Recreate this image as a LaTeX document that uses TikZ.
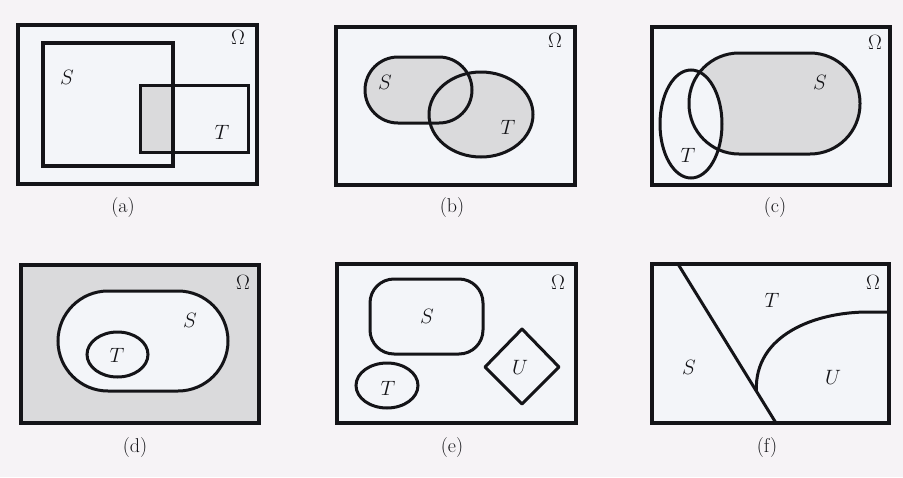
\documentclass[tikz,border=0pt]{standalone}
\usetikzlibrary{calc}
\definecolor{paper}{RGB}{246,243,246}
\definecolor{panel}{RGB}{243,245,249}
\definecolor{setgray}{RGB}{218,218,220}
\definecolor{ink}{RGB}{20,20,24}

\begin{document}
\begin{tikzpicture}[x=1pt,y=-1pt,
      frame/.style={draw=ink,line width=3.5pt,fill=panel},
      set/.style={draw=ink,line width=3pt},
      lbl/.style={font=\fontsize{22}{26}\selectfont,text=ink,inner sep=0pt},
      sublbl/.style={font=\fontsize{20}{24}\selectfont,text=ink,inner sep=0pt}]
      \fill[paper] (0,0) rectangle (903,477);
      % (a)
      \draw[frame] (18,25) rectangle (257,184);
      \fill[setgray] (140,85) rectangle (173,152);
      \draw[set,line width=3.5pt] (43,43) rectangle (173,166);
      \draw[set] (140,85) rectangle (248,152);
      \node[lbl] (omA) at (238,37) {$\Omega$};
      \node[lbl] (sA) at (67,77) {$S$};
      \node[lbl] (tA) at (222,132) {$T$};
      \node[sublbl] (capA) at (123,208) {(a)};
      % (b)
      \draw[frame] (336,27) rectangle (575,185);
      \fill[setgray,rounded corners=33pt] (365,57) rectangle (472,123);
      \fill[setgray] (481,114.5) ellipse[x radius=52,y radius=42.5];
      \draw[set,rounded corners=33pt] (365,57) rectangle (472,123);
      \draw[set] (481,114.5) ellipse[x radius=52,y radius=42.5];
      \node[lbl] (omB) at (555,40) {$\Omega$};
      \node[lbl] (sB) at (385,82) {$S$};
      \node[lbl] (tB) at (508,127) {$T$};
      \node[sublbl] (capB) at (452,208) {(b)};
      % (c)
      \draw[frame] (652,27) rectangle (890,185);
      \fill[setgray,rounded corners=50pt] (689,53) rectangle (860,154);
      \fill[panel] (691,124) ellipse[x radius=31,y radius=54];
      \draw[set,rounded corners=50pt] (689,53) rectangle (860,154);
      \draw[set] (691,124) ellipse[x radius=31,y radius=54];
      \node[lbl] (omC) at (875,42) {$\Omega$};
      \node[lbl] (sC) at (820,82) {$S$};
      \node[lbl] (tC) at (688,155) {$T$};
      \node[sublbl] (capC) at (775,208) {(c)};
      % (d)
      \draw[frame,fill=setgray] (21,265) rectangle (259,423);
      \draw[set,fill=panel,rounded corners=50pt] (58,291) rectangle (228,391);
      \draw[set] (117.5,354.5) ellipse[x radius=30.5,y radius=22.5];
      \node[lbl] (omD) at (243,282) {$\Omega$};
      \node[lbl] (sD) at (190,320) {$S$};
      \node[lbl] (tD) at (117,355) {$T$};
      \node[sublbl] (capD) at (135,448) {(d)};
      % (e)
      \draw[frame] (337,264) rectangle (576,423);
      \draw[set,rounded corners=24pt] (370,279) rectangle (483,354);
      \draw[set] (387,385.5) ellipse[x radius=31,y radius=22.5];
      \draw[set,line join=round] (485,367) -- (522,329) -- (559,367) -- (522,404) -- cycle;
      \node[lbl] (omE) at (558,282) {$\Omega$};
      \node[lbl] (sE) at (427,316) {$S$};
      \node[lbl] (tE) at (388,388) {$T$};
      \node[lbl] (uE) at (520,367) {$U$};
      \node[sublbl] (capE) at (452,448) {(e)};
      % (f)
      \draw[frame] (652,264) rectangle (889,423);
      \coordinate (cutTop) at (678,264);
      \coordinate (cutBot) at (776,423);
      \coordinate (meet) at ($(cutTop)!0.8!(cutBot)$);
      \coordinate (edge) at (889,312);
      \draw[set] (cutTop) -- (cutBot);
      \draw[set] (meet) .. controls (754,335) and (815,312) .. (868,312) -- (edge);
      \node[lbl] (omF) at (873,282) {$\Omega$};
      \node[lbl] (tF) at (772,300) {$T$};
      \node[lbl] (sF) at (689,367) {$S$};
      \node[lbl] (uF) at (833,377) {$U$};
      \node[sublbl] (capF) at (767,448) {(f)};
    \end{tikzpicture}
\end{document}
